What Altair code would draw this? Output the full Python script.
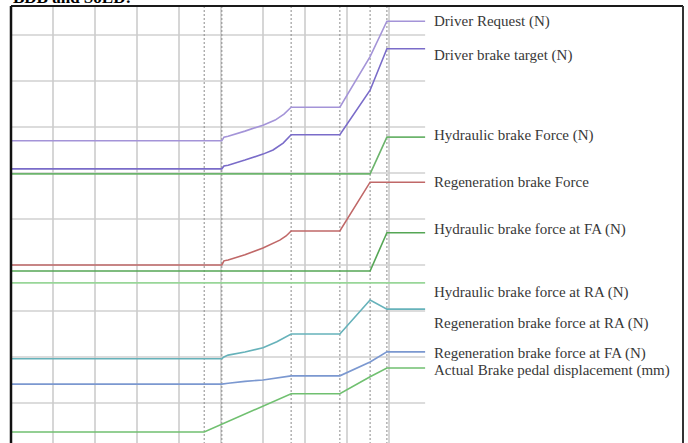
import altair as alt
import pandas as pd

# Brake signal traces: time in grid units (s), values in stacked display units
series_names = [
    "Driver Request (N)",
    "Driver brake target (N)",
    "Hydraulic brake Force (N)",
    "Regeneration brake Force",
    "Hydraulic brake force at FA (N)",
    "Hydraulic brake force at RA (N)",
    "Regeneration brake force at RA (N)",
    "Regeneration brake force at FA (N)",
    "Actual Brake pedal displacement (mm)",
]

driver_request_t = [0, 5.02, 5.07, 5.17, 5.57, 6.0, 6.29, 6.5, 6.67, 7.83, 8.55, 8.95, 9.86]
driver_request_v = [6.70, 6.70, 6.78, 6.80, 6.91, 7.04, 7.15, 7.28, 7.43, 7.43, 8.53, 9.30, 9.30]

brake_target_t = [0, 5.02, 5.07, 5.17, 5.57, 6.0, 6.24, 6.48, 6.67, 7.83, 8.55, 8.95, 9.86]
brake_target_v = [6.09, 6.09, 6.15, 6.17, 6.28, 6.41, 6.50, 6.65, 6.83, 6.83, 7.80, 8.70, 8.70]

hydraulic_t = [0, 8.55, 8.95, 9.86]
hydraulic_v = [5.98, 5.98, 6.78, 6.78]

regen_t = [0, 5.02, 5.07, 5.17, 5.57, 6.0, 6.4, 6.55, 6.67, 7.83, 8.55, 9.86]
regen_v = [4.00, 4.00, 4.09, 4.11, 4.22, 4.37, 4.54, 4.63, 4.74, 4.74, 5.80, 5.80]

hydraulic_fa_t = [0, 8.55, 8.95, 9.86]
hydraulic_fa_v = [3.87, 3.87, 4.70, 4.70]

hydraulic_ra_t = [0, 9.86]
hydraulic_ra_v = [3.61, 3.61]

regen_ra_t = [0, 5.02, 5.07, 5.17, 5.57, 6.0, 6.33, 6.67, 7.83, 8.55, 8.95, 9.86]
regen_ra_v = [1.96, 1.96, 2.00, 2.04, 2.11, 2.20, 2.33, 2.50, 2.50, 3.24, 3.04, 3.04]

regen_fa_t = [0, 5.02, 5.17, 5.57, 6.0, 6.67, 7.83, 8.55, 8.95, 9.86]
regen_fa_v = [1.41, 1.41, 1.43, 1.47, 1.50, 1.59, 1.59, 1.89, 2.11, 2.11]

pedal_t = [0, 4.60, 6.67, 7.83, 8.55, 8.95, 9.86]
pedal_v = [0.37, 0.37, 1.20, 1.20, 1.57, 1.76, 1.76]

series_t = [driver_request_t, brake_target_t, hydraulic_t, regen_t, hydraulic_fa_t,
            hydraulic_ra_t, regen_ra_t, regen_fa_t, pedal_t]
series_v = [driver_request_v, brake_target_v, hydraulic_v, regen_v, hydraulic_fa_v,
            hydraulic_ra_v, regen_ra_v, regen_fa_v, pedal_v]

# Grid and event markers (time units / display units)
grid_t = [1, 2, 3, 4, 5, 6, 7, 8, 9]
grid_v = [1, 2, 3, 4, 5, 6, 7, 8, 9]
event_t = [4.60, 5.02, 6.67, 7.83, 8.55, 8.95]
t_end = 9.86

colors = ["#a494d8", "#7a6cc9", "#6cb46c", "#c06868", "#55a655",
          "#98d698", "#66b2ba", "#7b98d0", "#70c070"]
# vertical nudge of each trace label relative to its end value (px)
label_dy = [0, 6, -2, 0, -4, 9, 14, 1, 2]

W, H = 672, 437
xs = alt.Scale(domain=[0, 16], nice=False, zero=False)
ys = alt.Scale(domain=[0.13, 9.63], nice=False, zero=False)

one_row = pd.DataFrame({"k": [0]})

rows = []
for name, ts, vs in zip(series_names, series_t, series_v):
    for i, (t, v) in enumerate(zip(ts, vs)):
        rows.append({"series": name, "t": t, "v": v, "i": i})
df = pd.DataFrame(rows)

hgrid = alt.Chart(pd.DataFrame({"v": grid_v, "t0": 0.0, "t1": t_end})).mark_rule(
    color="#d0d0d0", strokeWidth=1.6
).encode(
    y=alt.Y("v:Q", scale=ys, axis=None),
    x=alt.X("t0:Q", scale=xs, axis=None),
    x2="t1:Q",
)

vgrid = alt.Chart(pd.DataFrame({"t": grid_t})).mark_rule(
    color="#cccccc", strokeWidth=1.6
).encode(
    x=alt.X("t:Q", scale=xs, axis=None),
    y=alt.value(0),
    y2=alt.value(H),
)

events = alt.Chart(pd.DataFrame({"t": event_t})).mark_rule(
    color="#8a8a8a", strokeWidth=1, strokeDash=[2, 2]
).encode(
    x=alt.X("t:Q", scale=xs, axis=None),
    y=alt.value(0),
    y2=alt.value(H),
)

lines = alt.Chart(df).mark_line(strokeWidth=1.6).encode(
    x=alt.X("t:Q", scale=xs, axis=None),
    y=alt.Y("v:Q", scale=ys, axis=None),
    color=alt.Color("series:N", scale=alt.Scale(domain=series_names, range=colors), legend=None),
    order="i:O",
    detail="series:N",
)

labels = []
for name, vs, dy in zip(series_names, series_v, label_dy):
    labels.append(
        alt.Chart(pd.DataFrame({"v": [vs[-1]]})).mark_text(
            text=name, align="left", baseline="middle", dy=dy,
            font="Liberation Serif", fontSize=15, color="#383838",
        ).encode(x=alt.value(423), y=alt.Y("v:Q", scale=ys, axis=None))
    )

frame = [
    alt.Chart(one_row).mark_rule(color="#111111", strokeWidth=2.5).encode(
        x=alt.value(0), y=alt.value(0), y2=alt.value(H + 2)),
    alt.Chart(one_row).mark_rule(color="#1a1a1a", strokeWidth=2.2).encode(
        x=alt.value(0), x2=alt.value(W), y=alt.value(0)),
    alt.Chart(one_row).mark_rule(color="#333333", strokeWidth=2).encode(
        x=alt.value(W), y=alt.value(0), y2=alt.value(H + 2)),
]

heading = alt.Chart(one_row).mark_text(
    text="BDB and SoLD:", align="left", baseline="alphabetic",
    font="Liberation Serif", fontSize=17, fontWeight="bold", color="#000000",
).encode(x=alt.value(2), y=alt.value(-3))

chart = alt.layer(hgrid, vgrid, events, lines, *labels, *frame, heading).properties(
    width=W, height=H,
    autosize=alt.AutoSizeParams(type="none"),
    padding={"left": 11, "top": 6, "right": 5, "bottom": 0},
).configure_view(stroke=None).configure(background="white")

chart.save("out.html", embed_options={"renderer": "svg", "actions": False})
